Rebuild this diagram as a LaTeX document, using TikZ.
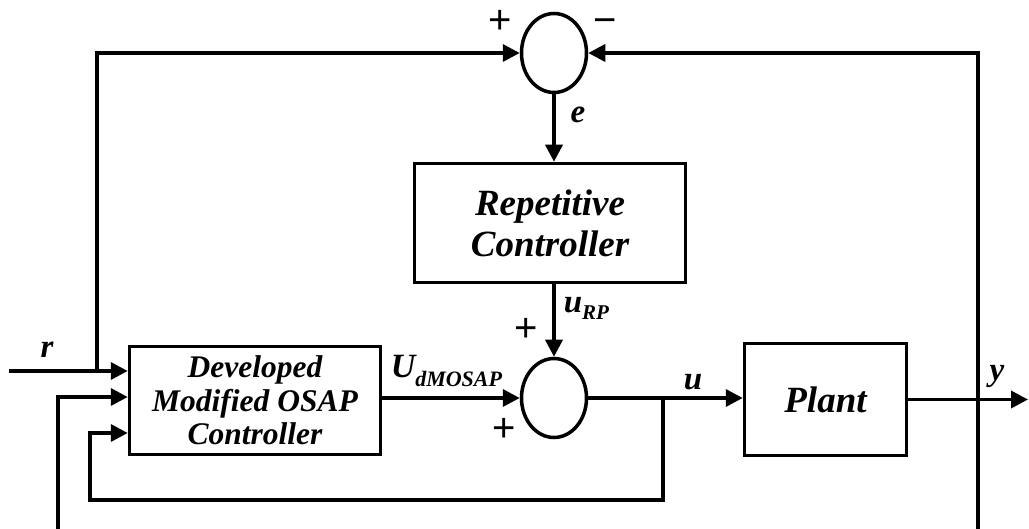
\documentclass[tikz,border=0pt]{standalone}
\usepackage{fontspec}
\setmainfont{Liberation Serif}
\newfontfamily\signfont{Liberation Sans}
\usetikzlibrary{arrows.meta,shapes.geometric,calc}
\begin{document}
\begin{tikzpicture}[x=1pt,y=-1pt,
 line width=3.5pt,
 blk/.style={draw, rectangle, inner sep=0pt, align=center},
 sumnode/.style={draw, ellipse, minimum width=65pt, minimum height=79pt, inner sep=0pt},
 arr/.style={-{Triangle[length=17pt,width=17pt]}},
 sgn/.style={font=\signfont\fontsize{40}{40}\selectfont, inner sep=0pt, anchor=base},
 lbl/.style={font=\fontsize{33}{33}\selectfont\bfseries\itshape, inner sep=0pt}
]
\useasboundingbox (0,0) rectangle (1029,529);
% blocks
\node[sumnode] (s1) at (554,53) {};
\node[sumnode] (s2) at (554,398) {};
\node[blk, minimum width=271pt, minimum height=119pt, font=\fontsize{37}{41}\selectfont\bfseries\itshape] (rep) at (550,223) {Repetitive\\Controller};
\node[blk, minimum width=251pt, minimum height=108pt, font=\fontsize{31.5}{33.5}\selectfont\bfseries\itshape] (dev) at (255,400.5) {Developed\\Modified OSAP\\Controller};
\node[blk, minimum width=162pt, minimum height=112pt, font=\fontsize{37}{41}\selectfont\bfseries\itshape] (plant) at (825.5,399.5) {Plant};
% coordinates
\coordinate (rin) at (9,371);
\coordinate (d1) at (dev.west |- rin);
\coordinate (j1) at (97,371);
\coordinate (tl) at (j1 |- s1.west);
\coordinate (rb) at (978,529);
\coordinate (tr) at (rb |- s1.east);
\coordinate (fb) at (58,529);
\coordinate (c2) at (58,397);
\coordinate (d2) at (dev.west |- c2);
\coordinate (br) at (663,398);
\coordinate (b1) at (663,500);
\coordinate (b2) at (90,500);
\coordinate (b3) at (90,433);
\coordinate (d3) at (dev.west |- b3);
\coordinate (yend) at (1028,399.5);
% connectors
\draw[arr] (rin) -- (d1);
\draw[arr] (j1) -- (tl) -- (s1.west);
\draw[arr] (rb) -- (tr) -- (s1.east);
\draw[arr] (s1.south) -- (s1.south |- rep.north);
\draw[arr] (s2.north |- rep.south) -- (s2.north);
\draw[arr] (dev.east |- s2.west) -- (s2.west);
\draw[arr] (s2.east) -- (plant.west |- s2.east);
\draw[arr] (br) -- (b1) -- (b2) -- (b3) -- (d3);
\draw[arr] (fb) -- (c2) -- (d2);
\draw[arr] (plant.east) -- (yend);
% labels
\node[sgn] (p1) at (500,34) {+};
\node[sgn] (m1) at (605,34) {−};
\node[lbl] (le) at (578,115) {e};
\node[lbl, anchor=base west] (lurp) at (562,313) {u\raisebox{-7pt}{\fontsize{21}{21}\selectfont RP}};
\node[sgn] (p2) at (526,342) {+};
\node[sgn] (p3) at (504,442) {+};
\node[lbl, anchor=base west] (lU) at (389,378) {\fontsize{34}{34}\selectfont U\raisebox{-9pt}{\fontsize{22}{22}\selectfont dMOSAP}};
\node[lbl, anchor=base] (lu) at (693,390) {u};
\node[lbl, anchor=base] (ly) at (997,381) {y};
\node[lbl, anchor=base] (lr) at (47,358) {r};
\end{tikzpicture}
\end{document}
